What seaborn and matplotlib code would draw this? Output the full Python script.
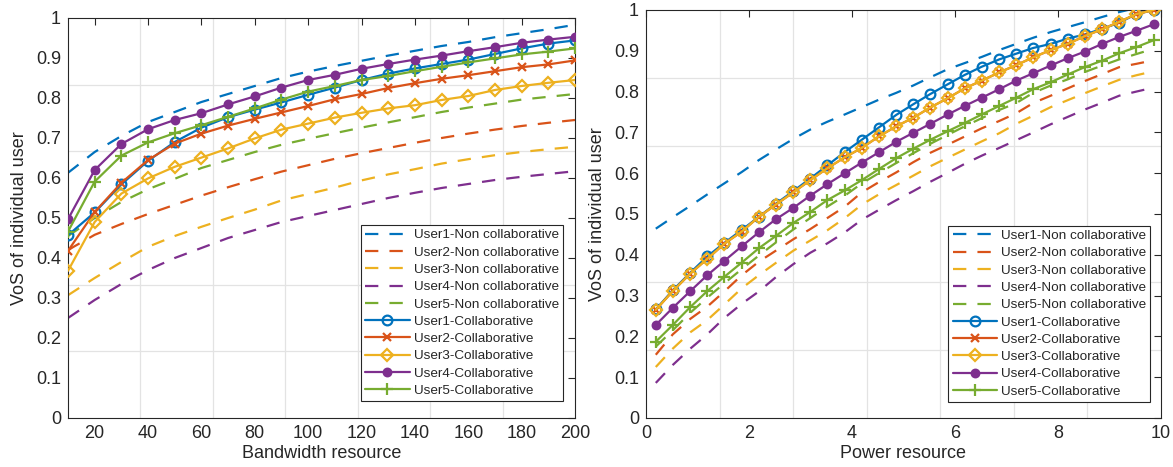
import matplotlib
matplotlib.use("Agg")
import matplotlib.pyplot as plt
import seaborn as sns
import numpy as np

# ---------------- data ----------------
bw_x = [10, 20, 30, 40, 50, 60, 70, 80, 90, 100, 110, 120, 130, 140, 150, 160, 170, 180, 190, 200]

bw_nc_u1 = [0.613, 0.665, 0.705, 0.740, 0.765, 0.790, 0.810, 0.830, 0.850, 0.866, 0.880, 0.893, 0.906, 0.918, 0.930, 0.940, 0.952, 0.962, 0.972, 0.983]
bw_nc_u2 = [0.420, 0.458, 0.485, 0.510, 0.533, 0.556, 0.577, 0.597, 0.616, 0.632, 0.648, 0.662, 0.675, 0.688, 0.700, 0.711, 0.721, 0.730, 0.738, 0.745]
bw_nc_u3 = [0.307, 0.350, 0.390, 0.428, 0.455, 0.478, 0.500, 0.521, 0.544, 0.560, 0.576, 0.594, 0.609, 0.622, 0.636, 0.647, 0.657, 0.665, 0.672, 0.678]
bw_nc_u4 = [0.250, 0.295, 0.335, 0.370, 0.400, 0.425, 0.450, 0.470, 0.490, 0.505, 0.520, 0.535, 0.550, 0.563, 0.575, 0.585, 0.595, 0.603, 0.610, 0.617]
bw_nc_u5 = [0.455, 0.500, 0.540, 0.572, 0.598, 0.625, 0.645, 0.665, 0.683, 0.698, 0.712, 0.726, 0.739, 0.752, 0.765, 0.776, 0.786, 0.796, 0.803, 0.810]

bw_c_u1 = [0.457, 0.514, 0.584, 0.643, 0.690, 0.726, 0.752, 0.771, 0.789, 0.808, 0.826, 0.845, 0.861, 0.874, 0.885, 0.896, 0.910, 0.924, 0.936, 0.944]
bw_c_u2 = [0.418, 0.515, 0.588, 0.645, 0.686, 0.711, 0.731, 0.748, 0.764, 0.780, 0.797, 0.810, 0.825, 0.837, 0.848, 0.857, 0.867, 0.877, 0.884, 0.894]
bw_c_u3 = [0.368, 0.490, 0.561, 0.599, 0.628, 0.651, 0.674, 0.699, 0.721, 0.736, 0.751, 0.763, 0.774, 0.782, 0.795, 0.805, 0.820, 0.830, 0.838, 0.845]
bw_c_u4 = [0.497, 0.620, 0.685, 0.722, 0.745, 0.762, 0.784, 0.804, 0.826, 0.845, 0.858, 0.873, 0.885, 0.896, 0.906, 0.917, 0.927, 0.938, 0.946, 0.953]
bw_c_u5 = [0.466, 0.591, 0.656, 0.689, 0.712, 0.732, 0.753, 0.774, 0.796, 0.816, 0.830, 0.845, 0.855, 0.867, 0.878, 0.889, 0.899, 0.909, 0.916, 0.924]

pw_x = [0.19, 0.52, 0.86, 1.19, 1.52, 1.86, 2.19, 2.52, 2.86, 3.19, 3.52, 3.86, 4.19, 4.52, 4.86,
        5.19, 5.52, 5.86, 6.19, 6.52, 6.86, 7.19, 7.52, 7.86, 8.19, 8.52, 8.86, 9.19, 9.52, 9.86]

pw_nc_u1 = [0.464, 0.492, 0.520, 0.548, 0.575, 0.603, 0.632, 0.658, 0.684, 0.707, 0.726, 0.744, 0.762, 0.780, 0.797,
            0.815, 0.835, 0.855, 0.870, 0.885, 0.902, 0.917, 0.932, 0.946, 0.958, 0.970, 0.983, 0.995, 1.005, 1.015]
pw_nc_u2 = [0.155, 0.205, 0.243, 0.273, 0.310, 0.350, 0.383, 0.410, 0.438, 0.463, 0.490, 0.518, 0.553, 0.578, 0.602,
            0.627, 0.650, 0.670, 0.690, 0.710, 0.728, 0.747, 0.772, 0.790, 0.808, 0.826, 0.843, 0.860, 0.868, 0.877]
pw_nc_u3 = [0.125, 0.170, 0.210, 0.240, 0.278, 0.318, 0.350, 0.380, 0.410, 0.435, 0.460, 0.490, 0.523, 0.548, 0.571,
            0.594, 0.617, 0.638, 0.658, 0.678, 0.698, 0.721, 0.741, 0.762, 0.779, 0.796, 0.813, 0.829, 0.840, 0.850]
pw_nc_u4 = [0.086, 0.130, 0.170, 0.205, 0.245, 0.280, 0.310, 0.345, 0.377, 0.405, 0.428, 0.455, 0.486, 0.510, 0.534,
            0.556, 0.579, 0.601, 0.623, 0.643, 0.662, 0.681, 0.700, 0.720, 0.738, 0.756, 0.773, 0.790, 0.800, 0.810]
pw_nc_u5 = [0.175, 0.215, 0.258, 0.295, 0.330, 0.365, 0.398, 0.430, 0.462, 0.490, 0.518, 0.545, 0.575, 0.600, 0.625,
            0.649, 0.672, 0.694, 0.715, 0.735, 0.755, 0.772, 0.797, 0.815, 0.830, 0.848, 0.864, 0.879, 0.892, 0.905]

pw_c_u1 = [0.266, 0.313, 0.356, 0.396, 0.429, 0.461, 0.493, 0.525, 0.556, 0.587, 0.619, 0.652, 0.682, 0.712, 0.743,
           0.769, 0.794, 0.818, 0.841, 0.861, 0.879, 0.893, 0.907, 0.917, 0.930, 0.940, 0.954, 0.969, 0.990, 1.000]
pw_c_u2 = [0.265, 0.311, 0.354, 0.390, 0.427, 0.457, 0.493, 0.523, 0.553, 0.583, 0.612, 0.639, 0.662, 0.690, 0.715,
           0.736, 0.761, 0.784, 0.808, 0.827, 0.847, 0.865, 0.884, 0.902, 0.917, 0.936, 0.953, 0.971, 0.990, 1.000]
pw_c_u3 = [0.265, 0.311, 0.354, 0.390, 0.427, 0.457, 0.493, 0.523, 0.553, 0.583, 0.612, 0.639, 0.662, 0.690, 0.715,
           0.736, 0.761, 0.784, 0.808, 0.827, 0.847, 0.865, 0.884, 0.902, 0.917, 0.936, 0.953, 0.971, 0.990, 1.000]
pw_c_u4 = [0.228, 0.270, 0.311, 0.350, 0.385, 0.421, 0.455, 0.487, 0.515, 0.545, 0.573, 0.600, 0.626, 0.651, 0.677,
           0.699, 0.721, 0.744, 0.765, 0.785, 0.806, 0.827, 0.845, 0.864, 0.882, 0.898, 0.917, 0.934, 0.949, 0.965]
pw_c_u5 = [0.187, 0.228, 0.272, 0.311, 0.346, 0.381, 0.416, 0.446, 0.478, 0.505, 0.534, 0.558, 0.583, 0.610, 0.637,
           0.660, 0.682, 0.703, 0.723, 0.744, 0.765, 0.785, 0.806, 0.823, 0.842, 0.860, 0.876, 0.894, 0.909, 0.926]

users = ["User1", "User2", "User3", "User4", "User5"]
nc_suffix = "-Non collaborative"
c_suffix = "-Collaborative"
left_xlabel = "Bandwidth resource"
right_xlabel = "Power resource"
ylabel = "VoS of individual user"
left_xticks = [20, 40, 60, 80, 100, 120, 140, 160, 180, 200]
right_xticks = [0, 2, 4, 6, 8, 10]
yticks = [0, 0.1, 0.2, 0.3, 0.4, 0.5, 0.6, 0.7, 0.8, 0.9, 1]

# ---------------- style ----------------
sns.set_style("white")
plt.rcParams["font.family"] = ["Liberation Sans", "DejaVu Sans"]

colors = ["#0072BD", "#D95319", "#EDB120", "#7E2F8E", "#77AC30"]
markers = ["o", "x", "D", "o", "+"]
msizes = [7, 6, 6.5, 5.5, 8]
mfcs = ["none", "none", "none", None, "none"]
axcol = "#262626"

fig = plt.figure(figsize=(11.73, 4.67), dpi=100)
axL = fig.add_axes([68 / 1173, 49 / 467, 507 / 1173, 400 / 467])
axR = fig.add_axes([646 / 1173, 49 / 467, 515 / 1173, 408 / 467])


def draw(ax, x, ncs, cs, xlim, xticks, xlabel, leg_anchor):
    for i, (u, yv) in enumerate(zip(users, ncs)):
        sns.lineplot(x=x, y=yv, ax=ax, color=colors[i], linewidth=1.6,
                     linestyle=(0, (6, 5)), label=u + nc_suffix, zorder=2)
    for i, (u, yv) in enumerate(zip(users, cs)):
        fc = colors[i] if mfcs[i] is None else "none"
        sns.lineplot(x=x, y=yv, ax=ax, color=colors[i], linewidth=1.6,
                     marker=markers[i], markersize=msizes[i],
                     markerfacecolor=fc, markeredgecolor=colors[i],
                     markeredgewidth=1.6, label=u + c_suffix, zorder=3)
    ax.set_xlim(*xlim)
    ax.set_ylim(0, 1)
    ax.set_xticks(xticks)
    ax.set_yticks(yticks)
    ax.set_xticklabels([f"{t:g}" for t in xticks])
    ax.set_yticklabels([f"{t:g}" for t in yticks])
    # MATLAB-like grid (misaligned with ticks in the original image)
    gx = [xlim[0] + k * (xlim[1] - xlim[0]) / 7 for k in range(1, 7)]
    gy = [k / 6 for k in range(1, 6)]
    ax.set_xticks(gx, minor=True)
    ax.set_yticks(gy, minor=True)
    ax.grid(False, which="major")
    ax.grid(True, which="minor", color="#e3e3e3", linewidth=0.9)
    ax.tick_params(which="minor", length=0)
    ax.tick_params(which="major", direction="in", top=True, right=True,
                   length=5, width=0.8, colors=axcol, labelsize=13, pad=5)
    for s in ax.spines.values():
        s.set_color(axcol)
        s.set_linewidth(0.8)
    ax.set_xlabel(xlabel, fontsize=13, color=axcol, labelpad=2)
    ax.set_ylabel(ylabel, fontsize=13, color=axcol, labelpad=6)
    leg = ax.legend(loc="lower right", bbox_to_anchor=leg_anchor, fontsize=9.7,
                    frameon=True, fancybox=False, framealpha=1, edgecolor=axcol,
                    borderpad=0.3, labelspacing=0.36, handlelength=3.3,
                    handletextpad=0.3, borderaxespad=0)
    leg.get_frame().set_linewidth(0.8)


draw(axL, bw_x, [bw_nc_u1, bw_nc_u2, bw_nc_u3, bw_nc_u4, bw_nc_u5],
     [bw_c_u1, bw_c_u2, bw_c_u3, bw_c_u4, bw_c_u5], (10, 200), left_xticks,
     left_xlabel, (0.976, 0.0425))
draw(axR, pw_x, [pw_nc_u1, pw_nc_u2, pw_nc_u3, pw_nc_u4, pw_nc_u5],
     [pw_c_u1, pw_c_u2, pw_c_u3, pw_c_u4, pw_c_u5], (0, 10), right_xticks,
     right_xlabel, (0.979, 0.04))

fig.savefig("out.png", dpi=100)
